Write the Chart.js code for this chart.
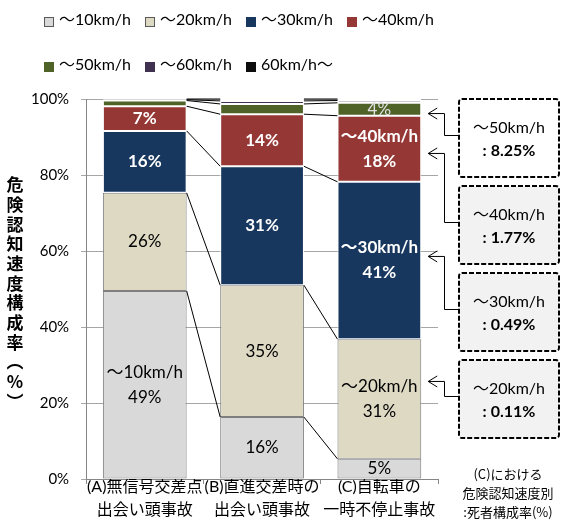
<!DOCTYPE html>
<html>
<head>
<meta charset="utf-8">
<script src="https://cdn.jsdelivr.net/npm/chart.js@4.4.1/dist/chart.umd.min.js"></script>
<style>
  html, body { margin: 0; padding: 0; background: #fff; }
</style>
</head>
<body>
<canvas id="speed-share" width="575" height="526"></canvas>
<script>
// categories (x axis, two lines each)
const categories = [
  ['(A)無信号交差点', '出会い頭事故'],
  ['(B)直進交差時の', '出会い頭事故'],
  ['(C)自転車の', '一時不停止事故'],
];
const speedBands = ['～10km/h', '～20km/h', '～30km/h', '～40km/h', '～50km/h', '～60km/h', '60km/h～'];

// share of each speed band per category (%)
const share10 = [49.5, 16.3, 5.3];
const share20 = [25.8, 34.7, 31.5];
const share30 = [16.3, 31.3, 41.4];
const share40 = [6.5, 13.7, 17.4];
const share50 = [1.5, 2.7, 3.4];
const share60 = [0.2, 0.8, 0.6];
const share60plus = [0.2, 0.5, 0.4];

// text printed inside each segment
const text10 = ['～10km/h\n49%', '16%', '5%'];
const text20 = ['26%', '35%', '～20km/h\n31%'];
const text30 = ['16%', '31%', '～30km/h\n41%'];
const text40 = ['7%', '14%', '～40km/h\n18%'];
const text50 = ['', '', '4%'];
const text60 = ['', '', ''];
const text60plus = ['', '', ''];

// side boxes: fatality rate by speed band for (C)
const boxBands = ['～50km/h', '～40km/h', '～30km/h', '～20km/h'];
const fatalityRate = ['8.25%', '1.77%', '0.49%', '0.11%'];
const pointerAt = [96.3, 85.8, 58.7, 25.8]; // where each arrow hits bar (C), in %

const yTicks = [0, 20, 40, 60, 80, 100];
const yTitle = '危険認知速度構成率（%）';
const noteLines = ['(C)における', '危険認知速度別', ':死者構成率(%)'];

const FONT = "Lato, 'Noto Sans CJK JP', sans-serif";
const JP = "'Noto Sans CJK JP', Lato, sans-serif";

const shares = [share10, share20, share30, share40, share50, share60, share60plus];
const texts = [text10, text20, text30, text40, text50, text60, text60plus];
const fills = ['#d9d9d9', '#ddd9c3', '#17375e', '#953735', '#4f6228', '#403151', '#0d0d0d'];
const edges = ['#7f7f7f', '#7f7f7f', '#ffffff', '#ffffff', '#ffffff', '#ffffff', '#ffffff'];
const textStyle = [
  { color: '#000', weight: 'normal' },
  { color: '#000', weight: 'normal' },
  { color: '#fff', weight: 'bold' },
  { color: '#fff', weight: 'bold' },
  { color: '#e0e0e0', weight: 'normal' },
  { color: '#fff', weight: 'normal' },
  { color: '#fff', weight: 'normal' },
];

// thin lines joining the same boundary of neighbouring bars
const seriesLines = {
  id: 'seriesLines',
  afterDatasetsDraw(chart) {
    const ctx = chart.ctx;
    ctx.save();
    ctx.strokeStyle = '#000';
    ctx.lineWidth = 1;
    chart.data.datasets.forEach((ds, i) => {
      const bars = chart.getDatasetMeta(i).data;
      for (let j = 0; j < bars.length - 1; j++) {
        const a = bars[j].getProps(['x', 'y', 'width'], true);
        const b = bars[j + 1].getProps(['x', 'y', 'width'], true);
        ctx.beginPath();
        ctx.moveTo(a.x + a.width / 2, a.y);
        ctx.lineTo(b.x - b.width / 2, b.y);
        ctx.stroke();
      }
    });
    ctx.restore();
  },
};

// labels inside the segments
const segmentText = {
  id: 'segmentText',
  afterDatasetsDraw(chart) {
    const ctx = chart.ctx;
    chart.data.datasets.forEach((ds, i) => {
      chart.getDatasetMeta(i).data.forEach((bar, j) => {
        const t = texts[i][j];
        if (!t) return;
        const { x, y, base } = bar.getProps(['x', 'y', 'base'], true);
        const lines = t.split('\n');
        const cy = (y + base) / 2;
        ctx.save();
        ctx.fillStyle = textStyle[i].color;
        ctx.font = textStyle[i].weight + ' 17px ' + FONT;
        ctx.textAlign = 'center';
        ctx.textBaseline = 'middle';
        lines.forEach((line, k) => {
          ctx.fillText(line, x, cy + (k - (lines.length - 1) / 2) * 25);
        });
        ctx.restore();
      });
    });
  },
};

// legend, y title, side boxes and note
const extras = {
  id: 'extras',
  afterDraw(chart) {
    const ctx = chart.ctx;
    const area = chart.chartArea;
    const yScale = chart.scales.y;
    ctx.save();

    // legend: 4 items on the first row, 3 on the second
    ctx.font = '16px ' + FONT;
    ctx.textBaseline = 'middle';
    ctx.textAlign = 'left';
    speedBands.forEach((name, i) => {
      const x = 44 + (i % 4) * 101;
      const y = i < 4 ? 20 : 65;
      ctx.fillStyle = fills[i];
      ctx.fillRect(x, y - 3, 10, 10);
      ctx.strokeStyle = i < 2 ? '#595959' : fills[i];
      ctx.lineWidth = 1;
      ctx.strokeRect(x + 0.5, y - 2.5, 9, 9);
      ctx.fillStyle = '#000';
      ctx.fillText(name, x + 15, y);
    });

    // vertical y title
    const chars = Array.from(yTitle.replace('（', '︵').replace('）', '︶'));
    const step = 19.7;
    const mid = (area.top + area.bottom) / 2 + 4;
    ctx.font = 'bold 17px ' + JP;
    ctx.textAlign = 'center';
    chars.forEach((c, k) => {
      ctx.fillText(c, 15, mid + (k - (chars.length - 1) / 2) * step);
    });

    // boxes with arrows into bar (C)
    const barC = chart.getDatasetMeta(0).data[2].getProps(['x', 'width'], true);
    const tipX = barC.x + barC.width / 2 + 7;
    const boxL = 459, boxR = 559, boxH = 78;
    boxBands.forEach((band, i) => {
      const top = area.top + i * 87;
      const cy = top + boxH / 2;
      ctx.setLineDash([5, 2]);
      ctx.lineWidth = 2;
      ctx.strokeStyle = '#000';
      ctx.fillStyle = i === 0 ? '#ffffff' : '#f2f2f2';
      ctx.beginPath();
      ctx.roundRect(boxL, top, boxR - boxL, boxH, 3);
      ctx.fill();
      ctx.stroke();
      ctx.setLineDash([]);

      ctx.fillStyle = '#000';
      ctx.textAlign = 'center';
      ctx.font = '16px ' + FONT;
      ctx.fillText(band, (boxL + boxR) / 2, cy - 10);
      ctx.font = 'bold 16px ' + FONT;
      ctx.fillText(': ' + fatalityRate[i], (boxL + boxR) / 2, cy + 13);

      // connector
      const py = yScale.getPixelForValue(pointerAt[i]);
      const jy = cy - 3;
      ctx.lineWidth = 1;
      ctx.beginPath();
      ctx.moveTo(boxL - 1, jy + 0.5);
      ctx.lineTo(444.5, jy + 0.5);
      ctx.lineTo(444.5, py + 0.5);
      ctx.lineTo(tipX, py + 0.5);
      ctx.moveTo(tipX + 9, py - 5);
      ctx.lineTo(tipX, py + 0.5);
      ctx.lineTo(tipX + 9, py + 6);
      ctx.stroke();
    });

    // note under the boxes
    ctx.font = '13px ' + JP;
    ctx.fillStyle = '#000';
    ctx.textAlign = 'center';
    noteLines.forEach((line, k) => {
      ctx.fillText(line, 508, 474 + k * 19);
    });

    ctx.restore();
  },
};

new Chart(document.getElementById('speed-share'), {
  type: 'bar',
  data: {
    labels: categories,
    datasets: speedBands.map((name, i) => ({
      label: name,
      data: shares[i],
      backgroundColor: fills[i],
      borderColor: edges[i],
      borderWidth: 1,
      borderSkipped: false,
      barPercentage: 0.714,
      categoryPercentage: 1,
    })),
  },
  options: {
    responsive: false,
    animation: false,
    devicePixelRatio: 1,
    layout: {
      padding: { top: 99, left: 19, right: 137, bottom: 0 },
    },
    plugins: {
      legend: { display: false },
      tooltip: { enabled: false },
    },
    scales: {
      x: {
        stacked: true,
        afterFit: (scale) => {
          scale.height = 47; // reach the bottom edge so the 2nd label line isn't clipped
        },
        grid: { offset: true, drawOnChartArea: false, tickLength: 5, color: '#868686' },
        border: { color: '#868686' },
        ticks: {
          color: '#000',
          padding: -9,
          maxRotation: 0,
          autoSkip: false,
          font: { family: FONT, size: 16, lineHeight: 23 / 16 },
        },
      },
      y: {
        stacked: true,
        min: 0,
        max: 100,
        afterBuildTicks: (scale) => {
          scale.ticks = yTicks.map((v) => ({ value: v }));
        },
        grid: { color: '#a6a6a6', tickLength: 5 },
        border: { color: '#868686' },
        ticks: {
          color: '#000',
          padding: 12,
          font: { family: FONT, size: 15 },
          callback: (v) => v + '%',
        },
      },
    },
  },
  plugins: [seriesLines, segmentText, extras],
});
</script>
</body>
</html>
